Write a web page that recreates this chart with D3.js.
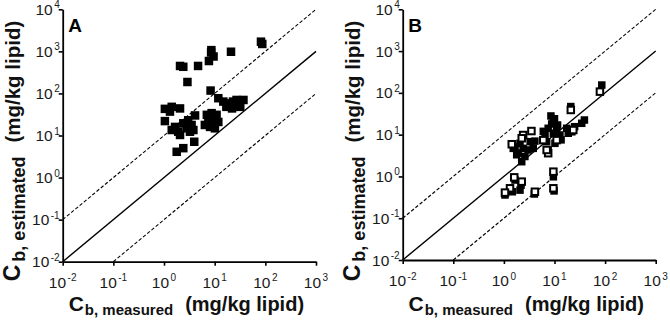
<!DOCTYPE html>
<html><head><meta charset="utf-8">
<script src="https://cdn.jsdelivr.net/npm/d3@7"></script>
<style>
html,body{margin:0;padding:0;background:#fff;}
svg{display:block;font-family:"Liberation Sans",Arial,sans-serif;}
</style></head>
<body>
<svg id="chart" width="670" height="323"></svg>
<script>
// ---- data ----
const xTickExp = [-2, -1, 0, 1, 2, 3];
const yTickExp = [-2, -1, 0, 1, 2, 3, 4];
const panelLetters = ["A", "B"];

// Panel A: measured vs estimated (filled squares)
const aMeasured = [82, 87, 8.6, 9.5, 7.7, 8.5, 21, 2.07, 2.4, 4.7, 2.9, 8.3, 11.8, 14.8, 18.5, 23, 27, 37, 17, 22, 32, 1.04, 1.42, 2.07, 1.31, 1.04, 1.65, 1.91, 1.42, 2.4, 3.0, 4.1, 3.5, 2.8, 2.07, 3.25, 3.8, 7.0, 8.7, 10.9, 7.5, 9.4, 6.4, 8.7, 11.8, 10.1, 8.1, 3.95, 1.78, 2.4];
const aEstimated = [1700, 1500, 1070, 755, 590, 940, 980, 450, 430, 450, 187, 117, 77, 64, 58, 64, 70, 70, 48, 44, 48, 43, 48, 44, 37, 22, 16, 12.3, 13.5, 19.5, 23, 30, 17.8, 14.8, 10.3, 12.3, 13.5, 31, 34, 31, 23, 25.6, 17.8, 19.5, 21, 14.8, 16, 7.1, 4.1, 5.0];

// Panel B: filled squares
const bMeasured = [86, 21, 39, 34.5, 25, 22, 18.7, 9.5, 7.5, 11, 6.5, 9.5, 12.8, 7.0, 10.2, 7.5, 17.4, 8.5, 1.66, 2.08, 2.4, 3.3, 4.1, 3.0, 1.93, 2.6, 2.25, 3.8, 1.53, 1.79, 1.66, 2.18, 1.47, 1.05, 4.0, 9.5, 9.8, 2.08, 10, 8.8, 11.5, 6.0, 13.5];
const bEstimated = [154, 47, 22.4, 18.7, 15.5, 11.7, 10.8, 22.4, 14.2, 14.2, 9.8, 10.8, 9.8, 6.8, 6.2, 4.3, 14.2, 28, 5.1, 6.2, 4.7, 6.8, 7.0, 4.3, 3.6, 3.0, 2.25, 4.7, 4.7, 3.3, 0.82, 0.62, 0.43, 0.36, 0.38, 0.98, 0.45, 0.47, 24, 18, 17, 12, 7.5];
// Panel B: open squares
const bOpenMeasured = [79, 21, 3.5, 2.4, 1.43, 2.25, 6.0, 11, 7.5, 1.6, 2.25, 1.32, 1.05, 4.1, 9.5, 9.5, 23.5, 7.0];
const bOpenEstimated = [107, 39, 12.2, 9.8, 5.9, 8.2, 7.4, 7.4, 3.6, 0.95, 0.75, 0.52, 0.41, 0.43, 1.3, 0.52, 12.9, 4.3];

// reference lines: estimated = factor * measured
const lineFactors = [0.1, 1, 10];

const svg = d3.select("#chart");

function supText(sel, exp) {
  sel.append("tspan").text("10");
  sel.append("tspan").attr("font-size", 10).attr("dy", -6.5).attr("dx", 1.5).text(String(exp));
}

function drawPanel(cfg) {
  const g = svg.append("g");
  const x = d3.scaleLog().domain([1e-2, 1e3]).range([cfg.x0, cfg.x1]);
  const y = d3.scaleLog().domain([1e-2, 1e4]).range([cfg.y0, cfg.y1]);

  // reference lines
  lineFactors.forEach(f => {
    const xs = [Math.max(1e-2, 1e-2 / f), 1e3];
    const pts = xs.map(v => [x(v), y(v * f)]);
    g.append("line")
      .attr("x1", pts[0][0]).attr("y1", pts[0][1])
      .attr("x2", pts[1][0]).attr("y2", pts[1][1])
      .attr("stroke", "#000")
      .attr("stroke-width", f === 1 ? 1.4 : 1.1)
      .attr("stroke-dasharray", f === 1 ? null : "3.5,2");
  });

  // axes
  const xAxis = d3.axisBottom(x).tickValues(xTickExp.map(e => Math.pow(10, e)))
    .tickSize(4).tickSizeOuter(0).tickFormat(() => "");
  const yAxis = d3.axisLeft(y).tickValues(yTickExp.map(e => Math.pow(10, e)))
    .tickSize(4).tickSizeOuter(0).tickFormat(() => "");
  const gx = g.append("g").attr("transform", `translate(0,${cfg.y0})`).call(xAxis);
  const gy = g.append("g").attr("transform", `translate(${cfg.x0},0)`).call(yAxis);
  [gx, gy].forEach(a => {
    a.select(".domain").attr("stroke-width", 1.8);
    a.selectAll(".tick line").attr("stroke-width", 1.6);
  });

  xTickExp.forEach(e => {
    const t = g.append("text").attr("x", x(Math.pow(10, e)))
      .attr("y", cfg.y0 + 26).attr("text-anchor", "middle")
      .attr("font-size", 15.5).attr("fill", "#1a1a1a");
    supText(t, e);
  });
  yTickExp.forEach(e => {
    const t = g.append("text").attr("x", cfg.x0 - 3)
      .attr("y", y(Math.pow(10, e)) + 5.5).attr("text-anchor", "end")
      .attr("font-size", 15.5).attr("fill", "#1a1a1a");
    supText(t, e);
  });

  // panel letter
  g.append("text").attr("x", cfg.x0 + 5.5).attr("y", 31.5)
    .attr("font-size", 19).attr("font-weight", "bold").text(cfg.letter);

  // axis titles
  const xt = g.append("text").attr("x", (cfg.x0 + cfg.x1) / 2 - 3).attr("y", 311)
    .attr("text-anchor", "middle").attr("font-weight", "bold").attr("fill", "#111");
  xt.append("tspan").attr("font-size", 21).text("C");
  xt.append("tspan").attr("font-size", 15).attr("dy", 4).attr("dx", 1).text("b, measured");
  xt.append("tspan").attr("font-size", 20).attr("dy", -4).attr("dx", 12).text("(mg/kg lipid)");

  const yt = g.append("text")
    .attr("transform", `translate(${cfg.x0 - 43},151) rotate(-90)`)
    .attr("text-anchor", "middle").attr("font-weight", "bold").attr("fill", "#111");
  yt.append("tspan").attr("font-size", 23).text("C");
  yt.append("tspan").attr("font-size", 18).attr("dy", 5).attr("dx", 3).text("b, estimated");
  yt.append("tspan").attr("font-size", 20.5).attr("dy", -5).attr("dx", 14).text("(mg/kg lipid)");

  // points
  const s = cfg.size;
  g.append("g").selectAll("rect").data(d3.zip(cfg.mx, cfg.my)).join("rect")
    .attr("x", d => x(d[0]) - s / 2).attr("y", d => y(d[1]) - s / 2)
    .attr("width", s).attr("height", s).attr("fill", "#000");
  if (cfg.ox) {
    const so = 6.5;
    g.append("g").selectAll("rect").data(d3.zip(cfg.ox, cfg.oy)).join("rect")
      .attr("x", d => x(d[0]) - so / 2).attr("y", d => y(d[1]) - so / 2)
      .attr("width", so).attr("height", so)
      .attr("fill", "#fff").attr("stroke", "#000").attr("stroke-width", 2);
  }
}

drawPanel({letter: panelLetters[0], x0: 62.7, x1: 316, y0: 261.7, y1: 9.3, size: 8.5,
  mx: aMeasured, my: aEstimated});
drawPanel({letter: panelLetters[1], x0: 402.7, x1: 655.7, y0: 260, y1: 9.3, size: 7.5,
  mx: bMeasured, my: bEstimated, ox: bOpenMeasured, oy: bOpenEstimated});
</script>
</body></html>
